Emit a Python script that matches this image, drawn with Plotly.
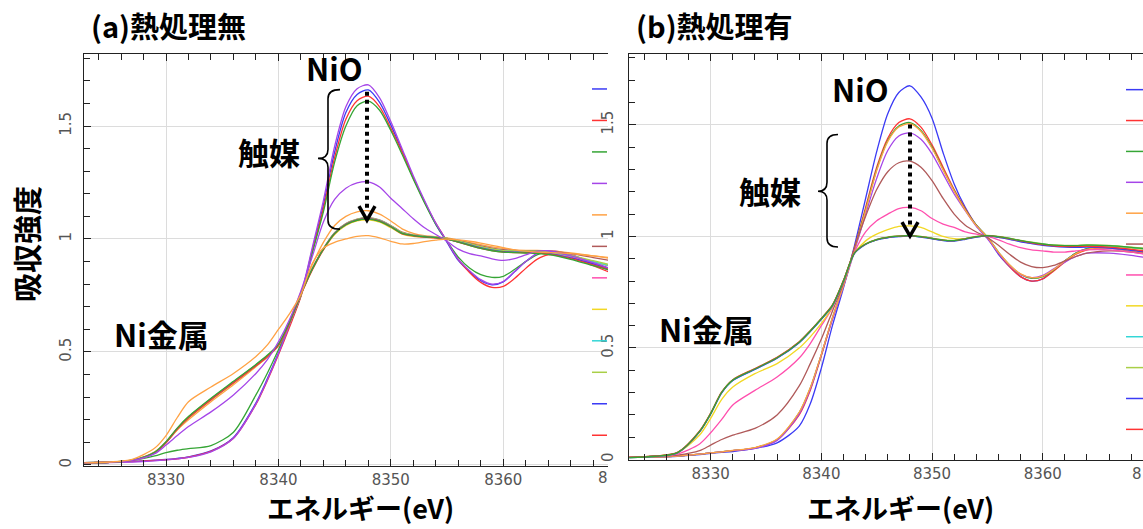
import plotly.graph_objects as go

W, H = 1143, 529

# ---------------- data ----------------
ENERGY = [8322, 8325, 8327, 8329, 8330, 8331, 8332, 8334, 8336, 8338,
          8339, 8340, 8341, 8342, 8343, 8344, 8345, 8346, 8347, 8348,
          8349, 8350, 8351, 8352, 8353, 8354, 8355, 8356, 8357, 8358,
          8359, 8360, 8361, 8362, 8363, 8364, 8366, 8368, 8370]

X_TICKS = [8330, 8340, 8350, 8360]
Y_TICKS = [0, 0.5, 1, 1.5]

BLUE, RED, GREEN, PURPLE = "#3b3bf5", "#ff3333", "#35a535", "#a545e8"
ORANGE, BROWN, PINK, YELLOW = "#ffa244", "#b05a5a", "#ff4fae", "#f2d824"
CYAN, YGREEN = "#33d6d6", "#a9cf47"
LEGEND_COLORS = [BLUE, RED, GREEN, PURPLE, ORANGE, BROWN, PINK, YELLOW,
                 CYAN, YGREEN, BLUE, RED]

# (a) no heat treatment
a_blue1 = [0.010, 0.012, 0.016, 0.021, 0.024, 0.029, 0.036, 0.062, 0.122, 0.275,
           0.38, 0.495, 0.62, 0.75, 0.95, 1.15, 1.385, 1.56, 1.64, 1.66,
           1.605, 1.505, 1.39, 1.27, 1.165, 1.065, 0.985, 0.905, 0.855, 0.815,
           0.797, 0.81, 0.855, 0.90, 0.935, 0.947, 0.93, 0.89, 0.85]
a_red2 = [0.010, 0.012, 0.015, 0.020, 0.023, 0.027, 0.034, 0.060, 0.118, 0.268,
          0.372, 0.488, 0.612, 0.745, 0.94, 1.135, 1.36, 1.53, 1.612, 1.632,
          1.585, 1.49, 1.385, 1.27, 1.165, 1.07, 0.99, 0.91, 0.852, 0.808,
          0.786, 0.79, 0.825, 0.87, 0.91, 0.93, 0.922, 0.882, 0.842]
a_green3 = [0.010, 0.013, 0.020, 0.040, 0.055, 0.065, 0.072, 0.086, 0.145, 0.31,
            0.405, 0.51, 0.625, 0.75, 0.935, 1.12, 1.34, 1.50, 1.59, 1.61,
            1.57, 1.48, 1.375, 1.265, 1.16, 1.065, 0.99, 0.92, 0.872, 0.842,
            0.83, 0.835, 0.865, 0.90, 0.93, 0.944, 0.93, 0.895, 0.86]
a_purple4 = [0.008, 0.010, 0.013, 0.018, 0.022, 0.027, 0.033, 0.058, 0.118, 0.27,
             0.375, 0.492, 0.622, 0.755, 0.96, 1.17, 1.41, 1.585, 1.665, 1.682,
             1.625, 1.52, 1.40, 1.28, 1.17, 1.07, 0.99, 0.91, 0.86, 0.82,
             0.80, 0.812, 0.855, 0.90, 0.935, 0.948, 0.932, 0.892, 0.852]
a_orange5 = [0.008, 0.013, 0.022, 0.058, 0.10, 0.155, 0.20, 0.28, 0.355, 0.435,
             0.478, 0.53, 0.635, 0.765, 0.885, 0.985, 1.06, 1.10, 1.12, 1.125,
             1.11, 1.08, 1.045, 1.025, 1.015, 1.01, 1.005, 0.995, 0.985, 0.975,
             0.965, 0.958, 0.952, 0.95, 0.95, 0.948, 0.938, 0.925, 0.91]
a_brown6 = [0.009, 0.012, 0.021, 0.056, 0.102, 0.162, 0.212, 0.292, 0.367, 0.442,
            0.482, 0.532, 0.632, 0.758, 0.868, 0.958, 1.028, 1.068, 1.088, 1.095,
            1.085, 1.06, 1.03, 1.018, 1.012, 1.008, 1.003, 0.993, 0.982, 0.97,
            0.96, 0.953, 0.95, 0.948, 0.948, 0.946, 0.935, 0.918, 0.90]
a_pink7 = [0.008, 0.012, 0.020, 0.054, 0.099, 0.158, 0.208, 0.288, 0.363, 0.438,
           0.478, 0.528, 0.628, 0.753, 0.862, 0.952, 1.022, 1.062, 1.083, 1.088,
           1.078, 1.053, 1.023, 1.013, 1.008, 1.005, 1.0, 0.988, 0.976, 0.963,
           0.953, 0.946, 0.944, 0.943, 0.944, 0.94, 0.922, 0.898, 0.872]
a_yellow8 = [0.008, 0.012, 0.020, 0.054, 0.098, 0.157, 0.207, 0.287, 0.362, 0.437,
             0.477, 0.527, 0.627, 0.752, 0.862, 0.952, 1.02, 1.06, 1.08, 1.085,
             1.075, 1.05, 1.022, 1.012, 1.008, 1.005, 1.0, 0.988, 0.976, 0.963,
             0.953, 0.947, 0.945, 0.944, 0.944, 0.941, 0.924, 0.90, 0.876]
a_cyan9 = [0.008, 0.012, 0.020, 0.055, 0.101, 0.161, 0.211, 0.291, 0.366, 0.441,
           0.481, 0.531, 0.631, 0.756, 0.866, 0.956, 1.026, 1.066, 1.086, 1.092,
           1.082, 1.057, 1.027, 1.016, 1.011, 1.007, 1.002, 0.99, 0.978, 0.965,
           0.955, 0.948, 0.946, 0.945, 0.945, 0.942, 0.925, 0.90, 0.875]
a_ygreen10 = [0.008, 0.012, 0.021, 0.057, 0.103, 0.163, 0.213, 0.293, 0.368, 0.443,
              0.483, 0.533, 0.633, 0.757, 0.867, 0.957, 1.027, 1.067, 1.087, 1.093,
              1.083, 1.058, 1.028, 1.017, 1.011, 1.008, 1.003, 0.991, 0.979, 0.966,
              0.956, 0.949, 0.947, 0.946, 0.946, 0.943, 0.927, 0.904, 0.88]
a_blue11 = [0.008, 0.012, 0.020, 0.055, 0.10, 0.16, 0.21, 0.29, 0.365, 0.44,
            0.48, 0.53, 0.63, 0.755, 0.865, 0.955, 1.025, 1.065, 1.085, 1.09,
            1.08, 1.055, 1.025, 1.015, 1.01, 1.006, 1.0, 0.987, 0.974, 0.961,
            0.951, 0.944, 0.942, 0.941, 0.94, 0.936, 0.916, 0.89, 0.862]
a_red12 = [0.009, 0.012, 0.020, 0.054, 0.099, 0.159, 0.209, 0.289, 0.364, 0.439,
           0.479, 0.529, 0.629, 0.754, 0.864, 0.954, 1.024, 1.064, 1.084, 1.089,
           1.079, 1.054, 1.024, 1.014, 1.009, 1.005, 1.0, 0.986, 0.972, 0.959,
           0.949, 0.942, 0.94, 0.939, 0.938, 0.934, 0.913, 0.886, 0.858]
a_green13 = [0.008, 0.012, 0.021, 0.056, 0.102, 0.163, 0.214, 0.295, 0.37, 0.445,
             0.485, 0.535, 0.634, 0.757, 0.866, 0.955, 1.024, 1.063, 1.083, 1.088,
             1.078, 1.054, 1.025, 1.015, 1.01, 1.006, 1.0, 0.986, 0.972, 0.958,
             0.948, 0.942, 0.94, 0.938, 0.936, 0.932, 0.91, 0.882, 0.855]
a_purple14 = [0.008, 0.012, 0.020, 0.050, 0.088, 0.13, 0.17, 0.235, 0.31, 0.405,
              0.465, 0.545, 0.645, 0.77, 0.92, 1.075, 1.175, 1.225, 1.248, 1.253,
              1.23, 1.18, 1.135, 1.09, 1.05, 1.02, 0.99, 0.955, 0.935, 0.925,
              0.912, 0.905, 0.913, 0.93, 0.945, 0.948, 0.925, 0.895, 0.86]
a_orange15 = [0.008, 0.013, 0.025, 0.075, 0.13, 0.21, 0.28, 0.345, 0.405, 0.48,
              0.53, 0.60, 0.67, 0.755, 0.89, 0.96, 0.985, 1.0, 1.012, 1.015,
              1.005, 0.99, 0.978, 0.98, 0.988, 0.995, 1.0, 0.996, 0.99, 0.982,
              0.972, 0.962, 0.952, 0.946, 0.942, 0.94, 0.935, 0.925, 0.915]

SERIES_A = [a_blue1, a_red2, a_green3, a_purple4, a_orange5, a_brown6, a_pink7,
            a_yellow8, a_cyan9, a_ygreen10, a_blue11, a_red12, a_green13,
            a_purple14, a_orange15]
COLORS_A = [BLUE, RED, GREEN, PURPLE, ORANGE, BROWN, PINK, YELLOW, CYAN,
            YGREEN, BLUE, RED, GREEN, PURPLE, ORANGE]

# (b) with heat treatment
b_blue1 = [0.010, 0.012, 0.015, 0.022, 0.028, 0.032, 0.036, 0.05, 0.075, 0.15,
           0.25, 0.41, 0.60, 0.77, 0.96, 1.17, 1.38, 1.55, 1.645, 1.675,
           1.625, 1.53, 1.375, 1.235, 1.13, 1.05, 0.995, 0.92, 0.865, 0.82,
           0.80, 0.81, 0.85, 0.89, 0.925, 0.945, 0.95, 0.935, 0.915]
b_red2 = [0.010, 0.012, 0.016, 0.024, 0.03, 0.035, 0.04, 0.052, 0.088, 0.20,
          0.31, 0.465, 0.63, 0.78, 0.95, 1.13, 1.31, 1.44, 1.51, 1.527,
          1.49, 1.41, 1.31, 1.21, 1.125, 1.05, 0.995, 0.925, 0.865, 0.82,
          0.80, 0.81, 0.845, 0.885, 0.92, 0.94, 0.948, 0.935, 0.915]
b_green3 = [0.010, 0.012, 0.016, 0.024, 0.03, 0.035, 0.04, 0.053, 0.09, 0.21,
            0.32, 0.47, 0.635, 0.78, 0.945, 1.12, 1.30, 1.43, 1.495, 1.51,
            1.475, 1.40, 1.30, 1.205, 1.12, 1.05, 0.998, 0.93, 0.872, 0.83,
            0.812, 0.82, 0.85, 0.89, 0.925, 0.945, 0.952, 0.94, 0.92]
b_purple4 = [0.010, 0.012, 0.016, 0.024, 0.03, 0.035, 0.04, 0.05, 0.086, 0.205,
             0.315, 0.47, 0.63, 0.775, 0.935, 1.10, 1.26, 1.385, 1.45, 1.464,
             1.435, 1.37, 1.28, 1.19, 1.115, 1.045, 0.99, 0.925, 0.87, 0.83,
             0.815, 0.825, 0.855, 0.885, 0.91, 0.925, 0.925, 0.915, 0.90]
b_orange5 = [0.010, 0.012, 0.016, 0.024, 0.03, 0.035, 0.041, 0.054, 0.092, 0.212,
             0.322, 0.472, 0.636, 0.78, 0.942, 1.115, 1.295, 1.425, 1.49, 1.505,
             1.47, 1.395, 1.298, 1.203, 1.118, 1.048, 0.997, 0.93, 0.873, 0.832,
             0.815, 0.822, 0.852, 0.89, 0.923, 0.942, 0.948, 0.935, 0.915]
b_brown6 = [0.010, 0.013, 0.02, 0.04, 0.065, 0.09, 0.11, 0.14, 0.20, 0.33,
            0.43, 0.54, 0.665, 0.79, 0.95, 1.09, 1.21, 1.29, 1.33, 1.337,
            1.31, 1.25, 1.17, 1.10, 1.05, 1.02, 0.995, 0.96, 0.92, 0.885,
            0.865, 0.86, 0.87, 0.89, 0.91, 0.925, 0.935, 0.93, 0.915]
b_pink7 = [0.010, 0.015, 0.025, 0.07, 0.12, 0.18, 0.245, 0.31, 0.37, 0.455,
           0.52, 0.60, 0.68, 0.80, 0.93, 1.02, 1.07, 1.10, 1.125, 1.13,
           1.115, 1.08, 1.055, 1.04, 1.02, 1.01, 1.0, 0.985, 0.965, 0.95,
           0.94, 0.935, 0.93, 0.93, 0.935, 0.94, 0.94, 0.93, 0.915]
b_yellow8 = [0.008, 0.015, 0.03, 0.11, 0.185, 0.27, 0.325, 0.385, 0.43, 0.50,
             0.55, 0.61, 0.685, 0.80, 0.925, 0.98, 1.01, 1.03, 1.045, 1.047,
             1.04, 1.02, 1.0, 0.99, 0.99, 0.997, 1.002, 0.996, 0.988, 0.978,
             0.97, 0.963, 0.958, 0.956, 0.956, 0.957, 0.955, 0.948, 0.938]
b_cyan9 = [0.008, 0.015, 0.03, 0.125, 0.205, 0.30, 0.355, 0.405, 0.455, 0.525,
           0.575, 0.63, 0.69, 0.80, 0.925, 0.965, 0.985, 0.995, 1.0, 1.003,
           0.998, 0.99, 0.982, 0.98, 0.988, 0.998, 1.003, 0.998, 0.99, 0.98,
           0.972, 0.965, 0.96, 0.958, 0.958, 0.96, 0.958, 0.95, 0.94]
b_ygreen10 = [0.009, 0.016, 0.031, 0.127, 0.207, 0.302, 0.357, 0.407, 0.457, 0.527,
              0.577, 0.632, 0.692, 0.802, 0.927, 0.967, 0.987, 0.997, 1.002, 1.005,
              1.0, 0.992, 0.984, 0.982, 0.99, 1.0, 1.005, 1.0, 0.992, 0.982,
              0.974, 0.967, 0.962, 0.96, 0.96, 0.962, 0.96, 0.952, 0.943]
b_blue11 = [0.008, 0.015, 0.03, 0.124, 0.204, 0.299, 0.354, 0.404, 0.454, 0.524,
            0.574, 0.629, 0.689, 0.799, 0.924, 0.964, 0.984, 0.994, 0.999, 1.002,
            0.997, 0.989, 0.981, 0.979, 0.987, 0.997, 1.002, 0.996, 0.987, 0.976,
            0.968, 0.96, 0.955, 0.952, 0.951, 0.952, 0.948, 0.938, 0.926]
b_red12 = [0.009, 0.016, 0.032, 0.128, 0.208, 0.303, 0.358, 0.408, 0.458, 0.528,
           0.578, 0.633, 0.693, 0.803, 0.927, 0.966, 0.986, 0.996, 1.001, 1.004,
           0.999, 0.991, 0.983, 0.981, 0.989, 0.999, 1.004, 0.999, 0.99, 0.98,
           0.971, 0.963, 0.958, 0.955, 0.955, 0.956, 0.952, 0.942, 0.93]
b_green13 = [0.008, 0.015, 0.031, 0.126, 0.206, 0.301, 0.356, 0.406, 0.456, 0.526,
             0.576, 0.631, 0.691, 0.801, 0.926, 0.966, 0.986, 0.996, 1.001, 1.004,
             0.999, 0.991, 0.983, 0.981, 0.989, 0.999, 1.004, 0.999, 0.991, 0.981,
             0.973, 0.966, 0.961, 0.959, 0.959, 0.961, 0.959, 0.951, 0.941]

SERIES_B = [b_blue1, b_red2, b_green3, b_purple4, b_orange5, b_brown6, b_pink7,
            b_yellow8, b_cyan9, b_ygreen10, b_blue11, b_red12, b_green13]
COLORS_B = [BLUE, RED, GREEN, PURPLE, ORANGE, BROWN, PINK, YELLOW, CYAN,
            YGREEN, BLUE, RED, GREEN]

# ---------------- figure ----------------
def px(x, y):
    return x / W, 1 - y / H

def pstr(x, y):
    a, b = px(x, y)
    return f"{a:.5f},{b:.5f}"

fig = go.Figure()
for ys, c in zip(SERIES_A, COLORS_A):
    fig.add_trace(go.Scatter(x=ENERGY, y=ys, mode="lines", xaxis="x", yaxis="y",
                             line=dict(color=c, width=1.3, shape="spline", smoothing=0.8),
                             showlegend=False, hoverinfo="skip"))
for ys, c in zip(SERIES_B, COLORS_B):
    fig.add_trace(go.Scatter(x=ENERGY, y=ys, mode="lines", xaxis="x2", yaxis="y2",
                             line=dict(color=c, width=1.3, shape="spline", smoothing=0.8),
                             showlegend=False, hoverinfo="skip"))

AX = "#222222"
TICKFONT = dict(family="DejaVu Sans", size=15, color="#555555")

def xaxis(domain, rng, anchor):
    return dict(domain=domain, range=rng, anchor=anchor, tickvals=X_TICKS,
                showline=True, linecolor=AX, linewidth=1.2, mirror="ticks",
                ticks="inside", ticklen=7, tickcolor=AX, tickwidth=1,
                showgrid=True, gridcolor="#dcdcdc", gridwidth=1, zeroline=False,
                minor=dict(dtick=2, tick0=8330, ticks="inside", ticklen=6,
                           tickcolor=AX, showgrid=False),
                tickfont=TICKFONT, ticklabelstandoff=0)

def yaxis(domain, rng, anchor, standoff):
    return dict(domain=domain, range=rng, anchor=anchor, tickvals=Y_TICKS,
                ticktext=["0", "0.5", "1", "1.5"], tickangle=-90,
                showline=True, linecolor=AX, linewidth=1.2, mirror=False,
                ticks="inside", ticklen=7, tickcolor=AX, tickwidth=1,
                showgrid=True, gridcolor="#dcdcdc", gridwidth=1, zeroline=False,
                minor=dict(dtick=0.1, tick0=0, ticks="inside", ticklen=6,
                           tickcolor=AX, showgrid=False),
                tickfont=TICKFONT, ticklabelstandoff=standoff)

fig.update_layout(
    width=W, height=H, margin=dict(l=0, r=0, t=0, b=0),
    paper_bgcolor="white", plot_bgcolor="white",
    xaxis=xaxis([84.3 / W, 608 / W], [8322.73, 8369.32], "y"),
    yaxis=yaxis([1 - 468 / H, 1 - 54 / H], [-0.0057, 1.8197], "x", 6),
    xaxis2=xaxis([629.3 / W, 1.0], [8322.65, 8369.06], "y2"),
    yaxis2=yaxis([1 - 462 / H, 1 - 54 / H], [-0.003, 1.8183], "x2", 9),
)

JP = "Noto Sans CJK JP, sans-serif"
def label(text, x, y, size, xanchor="center", angle=0, color="black", family=JP):
    a, b = px(x, y)
    fig.add_annotation(text=text, x=a, y=b, xref="paper", yref="paper",
                       xanchor=xanchor, yanchor="middle", showarrow=False,
                       borderpad=0, textangle=angle,
                       font=dict(family=family, size=size, color=color))

label("<b>(a)熱処理無</b>", 90, 25, 29, xanchor="left")
label("<b>(b)熱処理有</b>", 635, 25, 29, xanchor="left")
label("<b>NiO</b>", 334, 68, 31)
label("<b>NiO</b>", 860, 89, 31)
label("<b>触媒</b>", 269, 152, 31)
label("<b>触媒</b>", 770, 191, 31)
label("<b>Ni金属</b>", 161, 335, 31)
label("<b>Ni金属</b>", 706, 330, 31)
label("<b>吸収強度</b>", 26, 245, 29, angle=-90)
label("<b>エネルギー(eV)</b>", 360, 509.5, 27)
label("<b>エネルギー(eV)</b>", 900, 509.5, 27)
# first digit of the clipped 8370 tick labels at the right edges
label("8", 597, 480, 15, xanchor="left", color="#555555", family="DejaVu Sans")
label("8", 1143, 476, 15, xanchor="right", color="#555555", family="DejaVu Sans")

# braces
def brace(xv, xr, xm, ytop, ymid, ybot):
    r = 9
    path = (f"M {pstr(xr, ytop)} Q {pstr(xv, ytop)} {pstr(xv, ytop + r)} "
            f"L {pstr(xv, ymid - r)} Q {pstr(xv, ymid)} {pstr(xm, ymid)} "
            f"Q {pstr(xv, ymid)} {pstr(xv, ymid + r)} "
            f"L {pstr(xv, ybot - r)} Q {pstr(xv, ybot)} {pstr(xr, ybot)}")
    fig.add_shape(type="path", path=path, xref="paper", yref="paper",
                  line=dict(color="black", width=1.6))

brace(328, 340, 318, 90, 159, 230)
brace(827, 838, 818, 135, 192, 248)

# dotted arrows
def arrow(x, y0, y1, yapex):
    a0, b0 = px(x, y0)
    a1, b1 = px(x, y1)
    fig.add_shape(type="line", x0=a0, y0=b0, x1=a1, y1=b1, xref="paper", yref="paper",
                  line=dict(color="black", width=4, dash="dot"))
    path = f"M {pstr(x - 8, yapex - 14)} L {pstr(x, yapex)} L {pstr(x + 8, yapex - 14)}"
    fig.add_shape(type="path", path=path, xref="paper", yref="paper",
                  line=dict(color="black", width=3.5))

arrow(367, 92, 210, 221)
arrow(910, 125, 226, 237)

# legend line samples (labels clipped in the original)
for i, c in enumerate(LEGEND_COLORS):
    y = 89.3 + i * 31.6
    a0, b0 = px(592, y)
    a1, _ = px(607, y)
    fig.add_shape(type="line", x0=a0, x1=a1, y0=b0, y1=b0, xref="paper", yref="paper",
                  line=dict(color=c, width=1.5))
    y = 90 + i * 31.0
    a0, b0 = px(1126, y)
    a1, _ = px(1143, y)
    fig.add_shape(type="line", x0=a0, x1=a1, y0=b0, y1=b0, xref="paper", yref="paper",
                  line=dict(color=c, width=1.5))

fig.write_html("out.html", config={"displayModeBar": False},
               post_script="document.body.style.margin='0';")
